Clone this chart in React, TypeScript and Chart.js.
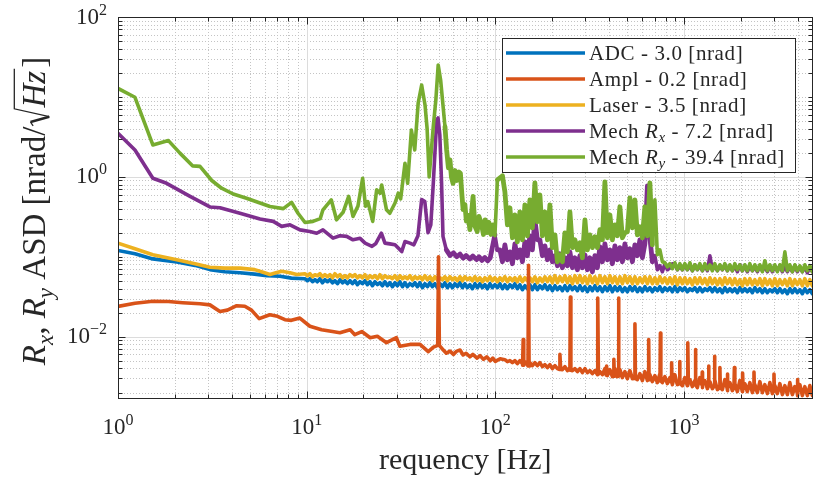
import React, { useEffect, useRef } from 'react';
import { Chart, registerables } from 'chart.js';

Chart.register(...registerables);

// ---------- axis ranges / ticks ----------
const xMin = 1;
const xMax = 4800;
const yMin = 0.00166;
const yMax = 100;
const xMajorTicks = [1, 10, 100, 1000];
const xTickExponents = ['0', '1', '2', '3'];
const yMajorTicks = [0.01, 1, 100];
const yTickExponents = ['\u22122', '0', '2'];

// ---------- high-frequency sample grids (Hz): A-samples and the B-samples between them ----------
const hfFreq = [
  9.79, 10.41, 11.07, 11.76, 12.5, 13.29, 14.12, 15.02, 15.96, 16.96,
  18.03, 19.16, 20.37, 21.65, 23.01, 24.46, 26.0, 27.63, 29.37, 31.22,
  33.18, 35.27, 37.49, 39.85, 42.35, 45.02, 47.85, 50.86, 54.06, 57.46,
  61.07, 64.92, 69.0, 73.34, 77.96, 82.86, 88.07, 93.61, 99.51, 105.8,
  112.4, 119.5, 127.0, 135.0, 143.5, 152.5, 162.1, 172.3, 183.2, 194.7,
  207.0, 220.0, 233.8, 248.5, 264.2, 280.8, 298.5, 317.2, 337.2, 358.4,
  380.9, 404.9, 430.4, 457.4, 486.2, 516.8, 549.3, 583.8, 620.6, 659.6,
  701.1, 745.2, 792.1, 841.9, 894.9, 951.2, 1011, 1075, 1142, 1214,
  1291, 1372, 1458, 1550, 1647, 1751, 1861, 1978, 2102, 2235,
  2375, 2525, 2684, 2853, 3032, 3223, 3426, 3641, 3870, 4114,
  4372, 4648,
];
const hfMid = [
  10.09, 10.73, 11.41, 12.12, 12.89, 13.7, 14.56, 15.49, 16.45, 17.49,
  18.59, 19.75, 21.0, 22.32, 23.72, 25.22, 26.81, 28.49, 30.28, 32.19,
  34.21, 36.36, 38.65, 41.08, 43.66, 46.41, 49.33, 52.43, 55.73, 59.24,
  62.96, 66.93, 71.14, 75.61, 80.37, 85.43, 90.8, 96.51, 102.6, 109.1,
  115.9, 123.2, 130.9, 139.2, 147.9, 157.2, 167.1, 177.6, 188.9, 200.7,
  213.4, 226.8, 241.0, 256.2, 272.4, 289.5, 307.7, 327.0, 347.6, 369.5,
  392.7, 417.4, 443.7, 471.6, 501.3, 532.8, 566.3, 601.9, 639.8, 680.0,
  722.8, 768.3, 816.6, 868.0, 922.6, 980.7, 1042, 1108, 1177, 1252,
  1331, 1414, 1503, 1598, 1698, 1805, 1919, 2039, 2167, 2304,
  2449, 2603, 2767, 2941, 3126, 3323, 3532, 3754, 3990, 4241,
  4508, 4792,
];

// ---------- ADC ----------
const adcLow: [number, number][] = [
  [1.0, 0.12], [1.23, 0.109], [1.53, 0.094], [2.05, 0.086], [2.56, 0.078], [3.07, 0.069],
  [3.68, 0.065], [4.43, 0.063], [5.3, 0.0606], [6.15, 0.058], [7.22, 0.057], [8.3, 0.054],
];
const adcHfStart = 0;
const adcHfA = [
  0.0531, 0.0531, 0.0516, 0.0531, 0.0516, 0.0516, 0.0501, 0.0516, 0.0501, 0.0501,
  0.0501, 0.0487, 0.0501, 0.0487, 0.0487, 0.0473, 0.0487, 0.0473, 0.0473, 0.0487,
  0.0473, 0.046, 0.0473, 0.0473, 0.046, 0.0473, 0.046, 0.046, 0.0473, 0.046,
  0.046, 0.0473, 0.046, 0.0447, 0.046, 0.046, 0.0447, 0.046, 0.0447, 0.046,
  0.0447, 0.0447, 0.046, 0.0447, 0.0434, 0.0447, 0.0447, 0.0434, 0.0447, 0.0434,
  0.0434, 0.0422, 0.0434, 0.0434, 0.0422, 0.0434, 0.0422, 0.0422, 0.0434, 0.0422,
  0.0422, 0.0434, 0.0422, 0.0422, 0.041, 0.0422, 0.0422, 0.041, 0.0422, 0.041,
  0.041, 0.0422, 0.041, 0.041, 0.0422, 0.041, 0.041, 0.0398, 0.041, 0.041,
  0.0398, 0.041, 0.041, 0.0398, 0.041, 0.0398, 0.0398, 0.041, 0.0398, 0.0398,
  0.041, 0.0398, 0.0398, 0.0387, 0.0398, 0.0398, 0.0387, 0.0398, 0.0398, 0.0387,
  0.0398, 0.0387,
];
const adcHfB = [
  0.0501, 0.0487, 0.0487, 0.0473, 0.0487, 0.0473, 0.046, 0.0473, 0.046, 0.046,
  0.0447, 0.046, 0.0447, 0.0434, 0.0447, 0.0434, 0.0434, 0.0422, 0.0434, 0.0422,
  0.0422, 0.0434, 0.0422, 0.041, 0.0422, 0.0422, 0.041, 0.0422, 0.041, 0.041,
  0.0422, 0.041, 0.041, 0.0398, 0.041, 0.041, 0.0398, 0.041, 0.041, 0.0398,
  0.0398, 0.041, 0.0398, 0.0387, 0.0398, 0.0387, 0.0387, 0.0398, 0.0387, 0.0376,
  0.0387, 0.0376, 0.0376, 0.0387, 0.0376, 0.0376, 0.0365, 0.0376, 0.0376, 0.0365,
  0.0376, 0.0365, 0.0376, 0.0365, 0.0365, 0.0376, 0.0365, 0.0365, 0.0376, 0.0365,
  0.0376, 0.0365, 0.0376, 0.0365, 0.0365, 0.0376, 0.0365, 0.0376, 0.0365, 0.0365,
  0.0376, 0.0365, 0.0365, 0.0355, 0.0365, 0.0365, 0.0355, 0.0365, 0.0365, 0.0355,
  0.0365, 0.0355, 0.0355, 0.0365, 0.0355, 0.0355, 0.0345, 0.0355, 0.0355, 0.0345,
  0.0355, 0.0345,
];

// ---------- Ampl ----------
const amplLow: [number, number][] = [
  [1.0, 0.0239], [1.23, 0.0262], [1.53, 0.0277], [1.85, 0.0275], [2.2, 0.0266], [2.72, 0.0258],
  [3.07, 0.025], [3.47, 0.0207], [3.8, 0.0215], [4.26, 0.0244], [4.7, 0.024], [5.1, 0.0215],
  [5.6, 0.0168], [6.38, 0.0188], [7.0, 0.018], [7.67, 0.0163], [8.3, 0.016], [9.2, 0.0171],
  [10.4, 0.0135], [12.0, 0.0122], [13.7, 0.0116], [15.0, 0.0112], [17.0, 0.0122], [18.0, 0.0106],
  [19.6, 0.0116], [21.7, 0.0097], [23.7, 0.0101], [26.5, 0.0084], [29.9, 0.0097], [31.2, 0.0076],
  [35.3, 0.008], [39.9, 0.008], [44.1, 0.0065], [47.0, 0.0074], [49.5, 0.0078], [50.0, 0.1],
  [50.5, 0.0078], [53.0, 0.0068], [55.0, 0.0062], [57.5, 0.0066], [60.0, 0.006], [62.5, 0.0066],
  [65.0, 0.0068], [67.5, 0.0059], [70.0, 0.0062], [73.3, 0.0056], [76.0, 0.006], [80.0, 0.0054],
  [83.0, 0.0058], [86.5, 0.0052], [90.0, 0.0056], [94.0, 0.005], [97.0, 0.0054], [100.0, 0.0049],
  [106.0, 0.0053],
];
const amplHfStart = 40;
const amplHfA = [
  0.005158, 0.005012, 0.005012, 0.005012, 0.00487, 0.004732, 0.004732, 0.004732, 0.004467, 0.004467,
  0.00434, 0.004217, 0.004217, 0.004097, 0.003981, 0.003981, 0.003981, 0.003758, 0.003758, 0.003652,
  0.003981, 0.003868, 0.003981, 0.003868, 0.003652, 0.003758, 0.003548, 0.003447, 0.003652, 0.00335,
  0.003255, 0.003447, 0.003162, 0.003073, 0.00335, 0.002985, 0.003073, 0.002901, 0.002818, 0.003073,
  0.002818, 0.002738, 0.002901, 0.002661, 0.002901, 0.002661, 0.002585, 0.002818, 0.002585, 0.002661,
  0.002512, 0.002738, 0.002512, 0.002661, 0.002441, 0.002585, 0.002441, 0.002661, 0.002371, 0.002512,
  0.002371, 0.002441,
];
const amplHfB = [
  0.00487, 0.004732, 0.004597, 0.004597, 0.004467, 0.00434, 0.00434, 0.004217, 0.004097, 0.003981,
  0.003981, 0.003868, 0.003758, 0.003758, 0.003652, 0.003548, 0.003548, 0.003447, 0.00335, 0.00335,
  0.003255, 0.003162, 0.003162, 0.003073, 0.002985, 0.002985, 0.002901, 0.002818, 0.002818, 0.002738,
  0.002661, 0.002661, 0.002585, 0.002512, 0.002512, 0.002441, 0.002441, 0.002371, 0.002304, 0.002304,
  0.002239, 0.002239, 0.002175, 0.002175, 0.002113, 0.002113, 0.002053, 0.002053, 0.002053, 0.001995,
  0.001995, 0.001995, 0.001939, 0.001939, 0.001939, 0.001884, 0.001884, 0.001884, 0.00183, 0.00183,
  0.00183, 0.00183,
];
const amplSpikes: [number, number][] = [
  [139.5, 0.0044], [140.5, 0.0092], [141.5, 0.0044],
  [149, 0.0043], [150, 0.078], [151, 0.0043],
  [218, 0.0039], [220, 0.006], [222, 0.0039],
  [248.5, 0.0038], [250, 0.0314], [251.5, 0.0038],
  [348, 0.0034], [350, 0.0305], [352, 0.0034],
  [387, 0.0033], [389, 0.0043], [391, 0.0033],
  [423, 0.0032], [425, 0.0052], [427, 0.0032],
  [448, 0.0032], [450, 0.0305], [452, 0.0032],
  [547, 0.003], [550, 0.0145], [553, 0.003],
  [647, 0.0029], [650, 0.0092], [653, 0.0029],
  [746, 0.0028], [750, 0.0111], [754, 0.0028],
  [856, 0.0027], [860, 0.0047], [864, 0.0027],
  [945, 0.0026], [950, 0.0049], [955, 0.0026],
  [1045, 0.0026], [1050, 0.0084], [1055, 0.0026],
  [1144, 0.0025], [1150, 0.0069], [1156, 0.0025],
  [1244, 0.0025], [1250, 0.0036], [1256, 0.0025],
  [1343, 0.0024], [1350, 0.0043], [1357, 0.0024],
  [1443, 0.0024], [1450, 0.0057], [1457, 0.0024],
  [1542, 0.0023], [1550, 0.0041], [1558, 0.0023],
  [1691, 0.0023], [1700, 0.0034], [1709, 0.0023],
  [1840, 0.0023], [1850, 0.0041], [1860, 0.0023],
  [2040, 0.0022], [2050, 0.0035], [2060, 0.0022],
  [2338, 0.0022], [2350, 0.0036], [2362, 0.0022],
  [2985, 0.0021], [3000, 0.0034], [3015, 0.0021],
  [3980, 0.002], [4000, 0.0029], [4020, 0.002],
];

// ---------- Laser ----------
const laserLow: [number, number][] = [
  [1.0, 0.148], [1.23, 0.126], [1.53, 0.106], [2.05, 0.092], [2.56, 0.082], [3.07, 0.074],
  [3.68, 0.072], [4.43, 0.072], [5.3, 0.069], [5.87, 0.064], [6.39, 0.06], [6.87, 0.063],
  [7.37, 0.066], [8.16, 0.063], [8.86, 0.06],
];
const laserHfStart = 0;
const laserHfA = [
  0.0613, 0.0613, 0.0596, 0.0613, 0.0596, 0.0596, 0.0613, 0.0596, 0.0579, 0.0596,
  0.0596, 0.0579, 0.0596, 0.0579, 0.0579, 0.0596, 0.0579, 0.0562, 0.0579, 0.0579,
  0.0562, 0.0579, 0.0562, 0.0562, 0.0579, 0.0562, 0.0562, 0.0546, 0.0562, 0.0562,
  0.0546, 0.0562, 0.0562, 0.0546, 0.0562, 0.0546, 0.0546, 0.0562, 0.0546, 0.0546,
  0.0562, 0.0546, 0.0546, 0.0562, 0.0546, 0.0546, 0.0562, 0.0546, 0.0562, 0.0562,
  0.0579, 0.0562, 0.0579, 0.0562, 0.0579, 0.0579, 0.0562, 0.0579, 0.0562, 0.0579,
  0.0562, 0.0579, 0.0562, 0.0562, 0.0579, 0.0562, 0.0562, 0.0546, 0.0562, 0.0562,
  0.0546, 0.0562, 0.0546, 0.0546, 0.0562, 0.0546, 0.0546, 0.0531, 0.0546, 0.0546,
  0.0531, 0.0546, 0.0531, 0.0531, 0.0546, 0.0531, 0.0531, 0.0516, 0.0531, 0.0531,
  0.0516, 0.0531, 0.0531, 0.0516, 0.0531, 0.0516, 0.0516, 0.0531, 0.0516, 0.0516,
  0.0531, 0.0516,
];
const laserHfB = [
  0.0579, 0.0562, 0.0579, 0.0562, 0.0562, 0.0546, 0.0562, 0.0546, 0.0546, 0.0562,
  0.0546, 0.0546, 0.0531, 0.0546, 0.0531, 0.0531, 0.0546, 0.0531, 0.0516, 0.0531,
  0.0531, 0.0516, 0.0531, 0.0516, 0.0516, 0.0501, 0.0516, 0.0516, 0.0501, 0.0516,
  0.0501, 0.0501, 0.0516, 0.0501, 0.0501, 0.0487, 0.0501, 0.0501, 0.0487, 0.0501,
  0.0487, 0.0501, 0.0487, 0.0487, 0.0501, 0.0487, 0.0473, 0.0487, 0.0487, 0.0473,
  0.0473, 0.0487, 0.0473, 0.046, 0.0473, 0.0473, 0.046, 0.0473, 0.046, 0.0473,
  0.046, 0.0473, 0.046, 0.046, 0.0473, 0.046, 0.046, 0.0473, 0.046, 0.046,
  0.046, 0.0473, 0.046, 0.046, 0.0447, 0.046, 0.046, 0.0447, 0.046, 0.046,
  0.0447, 0.046, 0.0447, 0.0447, 0.046, 0.0447, 0.0447, 0.0434, 0.0447, 0.0447,
  0.0447, 0.0434, 0.0447, 0.0434, 0.0434, 0.0447, 0.0434, 0.0434, 0.0447, 0.0434,
  0.0434, 0.0434,
];

// ---------- Mech Rx ----------
const rxLow: [number, number][] = [
  [1.0, 3.52], [1.23, 2.17], [1.53, 0.96], [1.81, 0.83], [2.41, 0.57], [3.07, 0.42],
  [3.47, 0.41], [4.43, 0.35], [5.66, 0.296], [6.65, 0.277], [7.37, 0.24], [8.16, 0.251],
  [9.22, 0.217], [10.4, 0.207], [11.3, 0.197], [12.2, 0.217], [13.8, 0.171], [15.0, 0.183],
  [16.3, 0.18], [17.6, 0.163], [19.2, 0.17], [20.4, 0.148], [22.2, 0.135], [23.2, 0.145],
  [24.9, 0.197], [26.0, 0.148], [27.6, 0.145], [29.4, 0.141], [31.9, 0.116], [33.2, 0.155],
  [35.3, 0.148], [37.0, 0.141], [38.9, 0.183], [40.7, 0.52], [42.3, 0.49], [44.0, 0.2],
  [45.5, 0.25], [46.9, 0.83], [48.9, 5.16], [49.7, 5.45], [50.8, 3.35], [51.9, 0.83],
  [52.8, 0.18], [55.0, 0.122], [57.5, 0.104], [60.0, 0.112], [62.5, 0.1], [65.0, 0.108],
  [67.5, 0.096], [70.0, 0.104], [73.3, 0.094], [76.0, 0.102], [79.5, 0.092], [82.0, 0.1],
  [85.0, 0.09], [88.0, 0.098], [91.0, 0.089], [94.0, 0.097],
];
const rxHfStart = 38;
const rxHfA = [
  0.188, 0.122, 0.141, 0.115, 0.145, 0.122, 0.154, 0.183, 0.29, 0.163,
  0.137, 0.122, 0.103, 0.109, 0.0972, 0.115, 0.0972, 0.103, 0.106, 0.0972,
  0.103, 0.133, 0.145, 0.122, 0.137, 0.13, 0.145, 0.126, 0.141, 0.163,
  0.145, 0.173, 0.103, 0.0772, 0.0818, 0.0729, 0.0818, 0.0772, 0.0794, 0.0772,
  0.0794, 0.0772, 0.0794, 0.103, 0.0772, 0.0772, 0.0794, 0.0772, 0.0772, 0.0794,
  0.0772, 0.0772, 0.075, 0.0772, 0.075, 0.0772, 0.075, 0.0772, 0.075, 0.075,
  0.0772, 0.075, 0.075, 0.075,
];
const rxHfB = [
  0.122, 0.0866, 0.0917, 0.0818, 0.0972, 0.0866, 0.103, 0.122, 0.163, 0.103,
  0.0917, 0.0866, 0.0772, 0.0729, 0.0772, 0.0729, 0.0688, 0.0729, 0.0688, 0.0649,
  0.0729, 0.0866, 0.0917, 0.0818, 0.0917, 0.0866, 0.0972, 0.0866, 0.103, 0.0972,
  0.772, 0.0866, 0.0688, 0.0649, 0.0688, 0.0818, 0.0688, 0.0688, 0.0688, 0.0668,
  0.0688, 0.0668, 0.0668, 0.0688, 0.0668, 0.0688, 0.0668, 0.0668, 0.0649, 0.0668,
  0.0649, 0.0668, 0.0649, 0.0668, 0.0649, 0.0649, 0.0668, 0.0649, 0.0649, 0.0649,
  0.0649, 0.0649, 0.0631, 0.0649,
];

// ---------- Mech Ry ----------
const ryLow: [number, number][] = [
  [1.0, 12.8], [1.23, 9.9], [1.53, 2.51], [1.85, 2.84], [2.13, 1.98], [2.49, 1.37],
  [2.72, 1.35], [3.14, 0.9], [3.54, 0.72], [4.08, 0.61], [4.8, 0.54], [5.66, 0.47],
  [6.39, 0.425], [7.52, 0.4], [8.32, 0.48], [9.0, 0.35], [9.8, 0.268], [10.8, 0.277],
  [11.8, 0.3], [12.2, 0.387], [13.5, 0.516], [14.4, 0.29], [15.6, 0.36], [16.7, 0.57],
  [17.6, 0.32], [18.7, 0.43], [19.8, 0.96], [20.5, 0.43], [21.1, 0.49], [22.4, 0.277],
  [23.5, 0.69], [24.5, 0.625], [25.0, 0.79], [26.5, 0.387], [27.6, 0.35], [29.4, 0.47],
  [30.6, 0.625], [31.5, 0.53], [33.2, 1.48], [34.3, 0.83], [35.9, 3.86], [37.4, 2.17],
  [39.0, 8.35], [40.7, 14.1], [42.4, 7.94], [43.5, 4.0], [44.6, 1.0], [46.9, 4.25],
  [48.4, 9.2], [49.8, 25.1], [51.3, 16.3], [54.1, 4.25], [55.2, 2.17], [56.4, 1.3],
  [57.5, 1.63], [58.5, 1.0], [59.7, 0.83], [61.1, 1.2], [62.6, 0.9], [64.2, 1.15],
  [65.3, 1.11], [66.5, 0.6], [67.5, 0.39], [69.0, 0.45], [70.2, 0.28], [71.9, 0.33],
  [73.3, 0.218], [74.9, 0.36], [76.2, 0.57], [78.0, 0.24], [80.2, 0.207], [81.9, 0.32],
  [84.3, 0.26], [86.5, 0.19], [88.3, 0.29], [90.3, 0.2], [92.5, 0.27], [94.8, 0.19],
  [97.1, 0.25],
];
const ryHfStart = 38;
const ryHfA = [
  0.183, 0.972, 0.649, 0.41, 0.335, 0.365, 0.447, 0.516, 0.841, 0.596,
  0.365, 0.447, 0.188, 0.106, 0.1995, 0.365, 0.163, 0.15, 0.29, 0.188,
  0.178, 0.218, 0.866, 0.335, 0.251, 0.422, 0.1995, 0.546, 0.516, 0.237,
  0.422, 0.841, 0.516, 0.122, 0.0841, 0.0818, 0.0841, 0.0818, 0.0818, 0.0841,
  0.0794, 0.0818, 0.0818, 0.0794, 0.0818, 0.0794, 0.0818, 0.0794, 0.0818, 0.0794,
  0.0794, 0.0818, 0.0794, 0.0794, 0.0891, 0.0794, 0.0794, 0.0794, 0.115, 0.0794,
  0.0794, 0.0772, 0.0794, 0.0772,
];
const ryHfB = [
  0.917, 1.029, 0.251, 0.173, 0.154, 0.163, 0.183, 0.23, 0.274, 0.183,
  0.163, 0.13, 0.0866, 0.0866, 0.115, 0.13, 0.122, 0.0972, 0.122, 0.13,
  0.13, 0.163, 0.173, 0.163, 0.183, 0.173, 0.205, 0.23, 0.188, 0.173,
  0.183, 0.141, 0.106, 0.0866, 0.075, 0.0708, 0.0688, 0.0688, 0.0688, 0.0668,
  0.0688, 0.0668, 0.0688, 0.0668, 0.0668, 0.0688, 0.0668, 0.0668, 0.0688, 0.0668,
  0.0668, 0.0668, 0.0668, 0.0649, 0.0668, 0.0668, 0.0649, 0.0668, 0.0668, 0.0649,
  0.0668, 0.0649, 0.0668, 0.0649,
];

// ---------- legend ----------
const seriesNames = ['ADC', 'Ampl', 'Laser', 'Mech Rx', 'Mech Ry'];
const seriesRms = ['3.0', '0.2', '3.5', '7.2', '39.4'];
const seriesColors = ['#0072BD', '#D95319', '#EDB120', '#7E2F8E', '#77AC30'];

// ---------- helpers ----------
type Pt = { x: number; y: number };
function buildSeries(
  low: [number, number][], a: number[], b: number[], start: number, extra: [number, number][] = [],
): Pt[] {
  const pts: Pt[] = low.map(([x, y]) => ({ x, y }));
  a.forEach((y, i) => pts.push({ x: hfFreq[start + i], y }));
  b.forEach((y, i) => pts.push({ x: hfMid[start + i], y }));
  extra.forEach(([x, y]) => pts.push({ x, y }));
  pts.sort((p, q) => p.x - q.x);
  return pts;
}

const SERIF = '"Liberation Serif", "Times New Roman", serif';
const TEXT = '#262626';
const tickFont = `23px ${SERIF}`;
const expFont = `16px ${SERIF}`;
const legFont = `21px ${SERIF}`;
const legItal = `italic 21px ${SERIF}`;
const legSub = `italic 15px ${SERIF}`;
const xTitleFont = `30px ${SERIF}`;
const YF = 33;
const yTitleFont = `${YF}px ${SERIF}`;
const yTitleItal = `italic ${YF}px ${SERIF}`;
const yTitleSub = `italic 23px ${SERIF}`;

type Part = { t: string; font: string; dy?: number };
function partsWidth(ctx: CanvasRenderingContext2D, parts: Part[]) {
  let w = 0;
  for (const p of parts) { ctx.font = p.font; w += ctx.measureText(p.t).width; }
  return w;
}
function drawParts(ctx: CanvasRenderingContext2D, parts: Part[], x: number, y: number) {
  for (const p of parts) {
    ctx.font = p.font;
    ctx.fillText(p.t, x, y + (p.dy || 0));
    x += ctx.measureText(p.t).width;
  }
  return x;
}

function minorValues(lo: number, hi: number, majors: number[]) {
  const out: number[] = [];
  for (let d = -4; d <= 4; d++) {
    for (let m = 1; m <= 9; m++) {
      const v = m * Math.pow(10, d);
      if (v < lo * 0.999 || v > hi * 1.001) continue;
      if (majors.some((mv) => Math.abs(mv - v) / mv < 1e-6)) continue;
      out.push(v);
    }
  }
  return out;
}

const framePlugin = {
  id: 'frame',
  beforeDatasetsDraw(chart: any) {
    const { ctx, chartArea: a, scales } = chart;
    const xs = scales.x, ys = scales.y;
    ctx.save();
    ctx.beginPath();
    ctx.rect(a.left, a.top, a.right - a.left, a.bottom - a.top);
    ctx.clip();
    ctx.lineWidth = 1;
    ctx.strokeStyle = '#c4c4c4';
    ctx.setLineDash([1, 2]);
    for (const v of minorValues(xMin, xMax, xMajorTicks)) {
      const px = Math.round(xs.getPixelForValue(v)) + 0.5;
      ctx.beginPath(); ctx.moveTo(px, a.top); ctx.lineTo(px, a.bottom); ctx.stroke();
    }
    for (const v of minorValues(yMin, yMax, yMajorTicks)) {
      const py = Math.round(ys.getPixelForValue(v)) + 0.5;
      ctx.beginPath(); ctx.moveTo(a.left, py); ctx.lineTo(a.right, py); ctx.stroke();
    }
    ctx.setLineDash([]);
    ctx.strokeStyle = '#dcdcdc';
    for (const v of xMajorTicks) {
      const px = Math.round(xs.getPixelForValue(v)) + 0.5;
      ctx.beginPath(); ctx.moveTo(px, a.top); ctx.lineTo(px, a.bottom); ctx.stroke();
    }
    for (const v of yMajorTicks) {
      const py = Math.round(ys.getPixelForValue(v)) + 0.5;
      ctx.beginPath(); ctx.moveTo(a.left, py); ctx.lineTo(a.right, py); ctx.stroke();
    }
    ctx.restore();
  },
  afterDatasetsDraw(chart: any) {
    const { ctx, chartArea: a, scales } = chart;
    const xs = scales.x, ys = scales.y;
    ctx.save();
    const L = Math.round(a.left) + 0.5, R = Math.round(a.right) - 0.5;
    const T = Math.round(a.top) + 0.5, B = Math.round(a.bottom) - 0.5;
    ctx.strokeStyle = TEXT;
    ctx.lineWidth = 1;
    ctx.strokeRect(L, T, R - L, B - T);
    const tick = (v: number, major: boolean, axis: 'x' | 'y') => {
      const len = major ? 7 : 4;
      ctx.beginPath();
      if (axis === 'x') {
        const px = Math.round(xs.getPixelForValue(v)) + 0.5;
        ctx.moveTo(px, B); ctx.lineTo(px, B - len);
        ctx.moveTo(px, T); ctx.lineTo(px, T + len);
      } else {
        const py = Math.round(ys.getPixelForValue(v)) + 0.5;
        ctx.moveTo(L, py); ctx.lineTo(L + len, py);
        ctx.moveTo(R, py); ctx.lineTo(R - len, py);
      }
      ctx.stroke();
    };
    xMajorTicks.forEach((v) => tick(v, true, 'x'));
    minorValues(xMin, xMax, xMajorTicks).forEach((v) => tick(v, false, 'x'));
    yMajorTicks.forEach((v) => tick(v, true, 'y'));
    minorValues(yMin, yMax, yMajorTicks).forEach((v) => tick(v, false, 'y'));

    // tick labels
    ctx.fillStyle = TEXT;
    ctx.textAlign = 'left';
    ctx.textBaseline = 'alphabetic';
    const pow = (exp: string, x: number, base: number, align: 'center' | 'right') => {
      ctx.font = tickFont;
      const w1 = ctx.measureText('10').width;
      ctx.font = expFont;
      const w2 = ctx.measureText(exp).width;
      const start = align === 'right' ? x - (w1 + w2) : x - (w1 + w2) / 2;
      ctx.font = tickFont;
      ctx.fillText('10', start, base);
      ctx.font = expFont;
      ctx.fillText(exp, start + w1, base - 9);
    };
    xMajorTicks.forEach((v, i) => pow(xTickExponents[i], xs.getPixelForValue(v), 433.5, 'center'));
    yMajorTicks.forEach((v, i) => pow(yTickExponents[i], 107, ys.getPixelForValue(v) + 6.5, 'right'));

    // x title
    ctx.font = xTitleFont;
    ctx.textAlign = 'center';
    ctx.fillText('requency [Hz]', (a.left + a.right) / 2, 469);
    ctx.textAlign = 'left';

    // y title (rotated)
    const F = YF;
    const head: Part[] = [
      { t: 'R', font: yTitleItal }, { t: 'x', font: yTitleSub, dy: 8 }, { t: ', ', font: yTitleFont },
      { t: 'R', font: yTitleItal }, { t: 'y', font: yTitleSub, dy: 8 }, { t: ' ASD [nrad/', font: yTitleFont },
    ];
    const hz: Part[] = [{ t: 'Hz', font: yTitleItal }];
    const tail: Part[] = [{ t: ']', font: yTitleFont }];
    const radW = 0.58 * F;
    const total = partsWidth(ctx, head) + radW + partsWidth(ctx, hz) + 3 + partsWidth(ctx, tail);
    ctx.save();
    ctx.translate(45, 211);
    ctx.rotate(-Math.PI / 2);
    let cx = -total / 2;
    cx = drawParts(ctx, head, cx, 0);
    const r0 = cx;
    cx += radW;
    const hzEnd = drawParts(ctx, hz, cx, 0);
    ctx.strokeStyle = TEXT;
    ctx.lineCap = 'butt';
    ctx.lineWidth = 1.3;
    ctx.beginPath(); ctx.moveTo(r0 + 0.02 * F, -0.36 * F); ctx.lineTo(r0 + 0.14 * F, -0.44 * F); ctx.stroke();
    ctx.lineWidth = 2.4;
    ctx.beginPath(); ctx.moveTo(r0 + 0.14 * F, -0.44 * F); ctx.lineTo(r0 + 0.3 * F, 0.13 * F); ctx.stroke();
    ctx.lineWidth = 1.3;
    ctx.beginPath();
    ctx.moveTo(r0 + 0.3 * F, 0.13 * F);
    ctx.lineTo(r0 + 0.54 * F, -0.93 * F);
    ctx.lineTo(hzEnd + 0.06 * F, -0.93 * F);
    ctx.stroke();
    drawParts(ctx, tail, hzEnd + 3, 0);
    ctx.restore();

    // legend
    ctx.fillStyle = '#ffffff';
    ctx.fillRect(502, 38, 294, 135);
    ctx.strokeStyle = TEXT;
    ctx.lineWidth = 1;
    ctx.strokeRect(502.5, 38.5, 293, 134);
    const rowY = [53, 79, 105, 131, 157];
    const anyCtx = ctx as any;
    seriesNames.forEach((name, i) => {
      const yc = rowY[i];
      ctx.strokeStyle = seriesColors[i];
      ctx.lineWidth = 3.6;
      ctx.beginPath(); ctx.moveTo(506, yc); ctx.lineTo(585, yc); ctx.stroke();
      ctx.fillStyle = TEXT;
      let parts: Part[];
      if (name.startsWith('Mech')) {
        const sub = name.endsWith('x') ? 'x' : 'y';
        parts = [
          { t: 'Mech ', font: legFont }, { t: 'R', font: legItal }, { t: sub, font: legSub, dy: 4 },
          { t: ` - ${seriesRms[i]} [nrad]`, font: legFont },
        ];
      } else {
        parts = [{ t: `${name} - ${seriesRms[i]} [nrad]`, font: legFont }];
      }
      if ('letterSpacing' in anyCtx) anyCtx.letterSpacing = '0.6px';
      drawParts(ctx, parts, 589, yc + 6.5);
      if ('letterSpacing' in anyCtx) anyCtx.letterSpacing = '0px';
    });
    ctx.restore();
  },
};

// dense resonance region (many unresolved samples in the original) drawn with a heavier stroke
const denseBand = (c: any) => {
  const x0 = c.p0.parsed.x, x1 = c.p1.parsed.x;
  return x0 >= 54 && x1 <= 690 && !(x0 > 97 && x0 < 99.6) ? 4.8 : undefined;
};

export default function App() {
  const ref = useRef<HTMLCanvasElement | null>(null);
  useEffect(() => {
    if (!ref.current) return;
    const mk = (i: number, data: Pt[], order: number, dense = false) => ({
      label: seriesNames[i],
      data,
      borderColor: seriesColors[i],
      backgroundColor: seriesColors[i],
      borderWidth: 3.6,
      pointRadius: 0,
      fill: false,
      tension: 0,
      borderJoinStyle: 'round' as const,
      borderCapStyle: 'round' as const,
      clip: 0,
      order,
      ...(dense ? { segment: { borderWidth: denseBand } } : {}),
    });
    const chart = new Chart(ref.current, {
      type: 'line',
      data: {
        datasets: [
          mk(0, buildSeries(adcLow, adcHfA, adcHfB, adcHfStart), 4),
          mk(1, buildSeries(amplLow, amplHfA, amplHfB, amplHfStart, amplSpikes), 2),
          mk(2, buildSeries(laserLow, laserHfA, laserHfB, laserHfStart), 3),
          mk(3, buildSeries(rxLow, rxHfA, rxHfB, rxHfStart), 1, true),
          mk(4, buildSeries(ryLow, ryHfA, ryHfB, ryHfStart), 0, true),
        ],
      },
      options: {
        responsive: false,
        animation: false,
        devicePixelRatio: 1,
        events: [],
        layout: { padding: { top: 17, right: 1.5, left: 0, bottom: 0 } },
        plugins: { legend: { display: false }, tooltip: { enabled: false } },
        scales: {
          x: {
            type: 'logarithmic', min: xMin, max: xMax,
            grid: { display: false }, border: { display: false }, ticks: { display: false },
            afterFit: (s: any) => { s.height = 83; },
          },
          y: {
            type: 'logarithmic', min: yMin, max: yMax,
            grid: { display: false }, border: { display: false }, ticks: { display: false },
            afterFit: (s: any) => { s.width = 118; },
          },
        },
      } as any,
      plugins: [framePlugin as any],
    });
    return () => chart.destroy();
  }, []);
  return (
    <div style={{ position: 'fixed', left: 0, top: 0, width: 814, height: 482, background: '#ffffff' }}>
      <canvas ref={ref} width={814} height={482} style={{ width: 814, height: 482, display: 'block' }} />
    </div>
  );
}
